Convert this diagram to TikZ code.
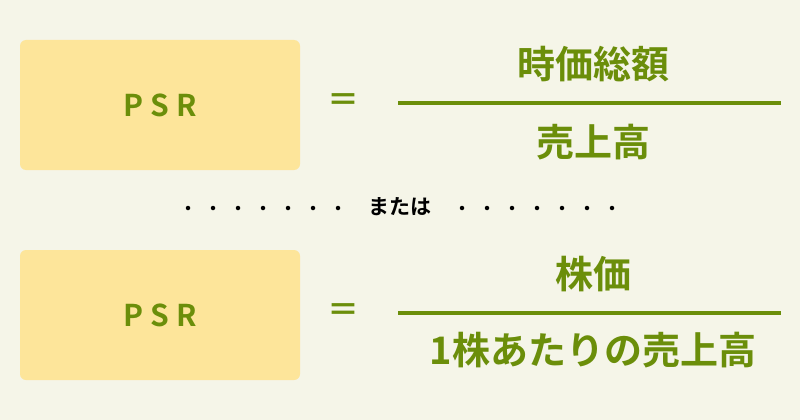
\documentclass[tikz,border=0pt]{standalone}
\usepackage{fontspec}
\newfontfamily\jp{Noto Sans CJK JP}[BoldFont={Noto Sans CJK JP Bold}]
\definecolor{bg}{HTML}{F5F5E8}
\definecolor{boxc}{HTML}{FDE59A}
\definecolor{gr}{HTML}{6B8E0A}
\begin{document}
\begin{tikzpicture}[x=1pt,y=-1pt,
  box/.style={fill=boxc,rounded corners=6pt,minimum width=280pt,minimum height=130pt,inner sep=0},
  lbl/.style={text=gr,font=\jp\bfseries\fontsize{38}{42}\selectfont},
  psr/.style={text=gr,font=\jp\bfseries\fontsize{30}{34}\selectfont},
  eqs/.style={text=gr,font=\jp\bfseries\fontsize{32}{36}\selectfont},
  bar/.style={draw=gr,line width=4pt},
  dot/.style={circle,fill=black,inner sep=0,minimum size=4.5pt}]
\fill[bg] (0,0) rectangle (800,420);
\node[box] (b1) at (160,105) {};
\node[psr] (p1) at (160,105) {P\hspace{7pt}S\hspace{7pt}R};
\node[eqs] (e1) at (343,103) {＝};
\coordinate (l1a) at (398,103); \coordinate (l1b) at (781,103);
\draw[bar] (l1a) -- (l1b);
\node[lbl] (n1) at (593,64) {時価総額};
\node[lbl] (d1) at (593,142) {売上高};
\node[box] (b2) at (160,315) {};
\node[psr] (p2) at (160,315) {P\hspace{7pt}S\hspace{7pt}R};
\node[eqs] (e2) at (343,313) {＝};
\coordinate (l2a) at (398,313); \coordinate (l2b) at (781,313);
\draw[bar] (l2a) -- (l2b);
\node[lbl] (n2) at (593,274) {株価};
\node[lbl] (d2) at (593,350) {1株あたりの売上高};
\foreach \x [count=\i] in {188,213,238,263,288,313,338} \node[dot] (ld\i) at (\x,208) {};
\foreach \x [count=\i] in {462,487,512,537,562,587,612} \node[dot] (rd\i) at (\x,208) {};
\node[font=\jp\bfseries\fontsize{21}{24}\selectfont] (or) at (400,207) {または};
\end{tikzpicture}
\end{document}
